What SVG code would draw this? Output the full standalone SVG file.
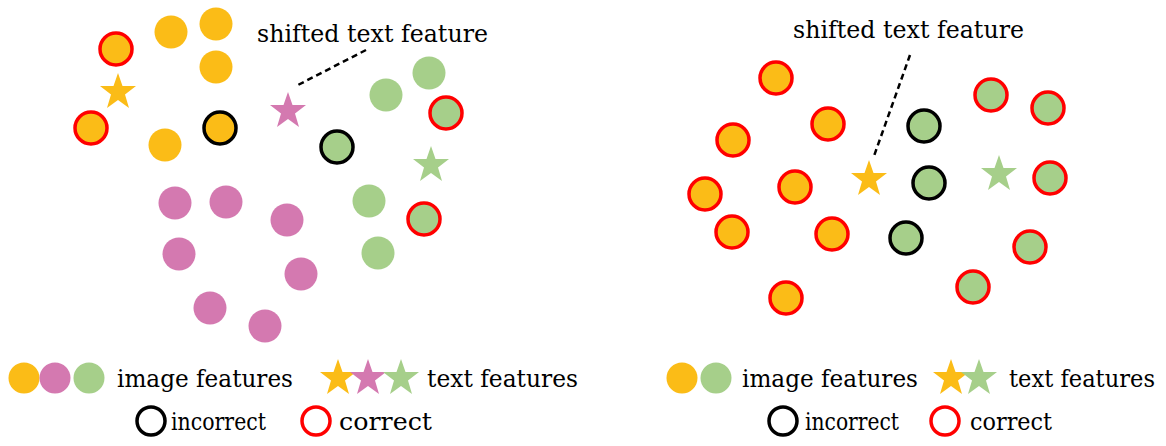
<svg xmlns="http://www.w3.org/2000/svg" width="1166" height="446" viewBox="0 0 1166 446">
<style>
.o{fill:#FBBC17}.p{fill:#D479B0}.g{fill:#A6CF8A}
.r{stroke:#F00;stroke-width:3.5}.k{stroke:#000;stroke-width:3.5}
text{font-family:"DejaVu Serif","Liberation Serif",serif;fill:#000;font-size:25px}
.d{stroke:#000;stroke-width:2.5;stroke-dasharray:6,4;fill:none}
</style>
<defs><path id="s" d="M0,-19 L4.5,-6 L18,-6 L7,2.5 L11,16 L0,8 L-11,16 L-7,2.5 L-18,-6 L-4.5,-6Z"/></defs>
<g id="left">
<circle class="o r" cx="116" cy="49" r="16"/><circle class="o" cx="171" cy="32" r="16.5"/><circle class="o" cx="216" cy="24" r="16.5"/><circle class="o" cx="216" cy="67" r="16.5"/>
<use href="#s" class="o" x="118" y="92"/>
<circle class="o r" cx="91" cy="128" r="16"/><circle class="o" cx="165" cy="145" r="16.5"/><circle class="o k" cx="220" cy="128" r="16"/>
<use href="#s" class="p" x="288" y="111"/>
<circle class="g k" cx="337" cy="147" r="16"/>
<circle class="g" cx="429" cy="73" r="16.5"/><circle class="g" cx="386" cy="95" r="16.5"/><circle class="g r" cx="446" cy="113" r="16"/>
<use href="#s" class="g" x="431" y="165"/>
<circle class="g" cx="369" cy="201" r="16.5"/><circle class="g r" cx="424" cy="219" r="16"/><circle class="g" cx="378" cy="253" r="16.5"/>
<circle class="p" cx="175" cy="203" r="16.5"/><circle class="p" cx="226" cy="202" r="16.5"/><circle class="p" cx="287" cy="220" r="16.5"/><circle class="p" cx="179" cy="254" r="16.5"/><circle class="p" cx="301" cy="274" r="16.5"/><circle class="p" cx="210" cy="308" r="16.5"/><circle class="p" cx="265" cy="326" r="16.5"/>
<text x="257" y="42" textLength="231" lengthAdjust="spacingAndGlyphs">shifted text feature</text>
</g>
<g id="right">
<circle class="o r" cx="776" cy="78" r="16"/><circle class="o r" cx="828" cy="124" r="16"/><circle class="o r" cx="733" cy="140" r="16"/><circle class="o r" cx="795" cy="187" r="16"/><circle class="o r" cx="705" cy="194" r="16"/><circle class="o r" cx="732" cy="232" r="16"/><circle class="o r" cx="832" cy="234" r="16"/><circle class="o r" cx="786" cy="298" r="16"/>
<use href="#s" class="o" x="869" y="179"/>
<circle class="g k" cx="924" cy="126" r="16"/><circle class="g k" cx="929" cy="183" r="16"/><circle class="g k" cx="906" cy="238" r="16"/>
<circle class="g r" cx="991" cy="95" r="16"/><circle class="g r" cx="1048" cy="108" r="16"/><circle class="g r" cx="1050" cy="178" r="16"/><circle class="g r" cx="1030" cy="247" r="16"/><circle class="g r" cx="973" cy="287" r="16"/>
<use href="#s" class="g" x="999" y="174"/>
<text x="793" y="38" textLength="231" lengthAdjust="spacingAndGlyphs">shifted text feature</text>
</g>
<g id="connectors">
<path class="d" d="M366,50 L296,86"/>
<path class="d" d="M910,55 L874,156"/>
</g>
<g id="legend">
<circle class="o" cx="24" cy="378" r="15.5"/><circle class="p" cx="55" cy="378" r="15.5"/><circle class="g" cx="89" cy="378" r="15.5"/>
<text x="117" y="387" textLength="176" lengthAdjust="spacingAndGlyphs">image features</text>
<use href="#s" class="o" x="338" y="378"/><use href="#s" class="p" x="368" y="378"/><use href="#s" class="g" x="401" y="378"/>
<text x="427" y="387" textLength="151" lengthAdjust="spacingAndGlyphs">text features</text>
<circle fill="none" class="k" cx="151" cy="421" r="14"/><text x="171" y="430" textLength="95" lengthAdjust="spacingAndGlyphs">incorrect</text>
<circle fill="none" class="r" cx="316" cy="421" r="14"/><text x="339" y="430" textLength="93" lengthAdjust="spacingAndGlyphs">correct</text>
<circle class="o" cx="682" cy="378" r="15.5"/><circle class="g" cx="716" cy="378" r="15.5"/>
<text x="742" y="387" textLength="176" lengthAdjust="spacingAndGlyphs">image features</text>
<use href="#s" class="o" x="951" y="378"/><use href="#s" class="g" x="979" y="378"/>
<text x="1009" y="387" textLength="146" lengthAdjust="spacingAndGlyphs">text features</text>
<circle fill="none" class="k" cx="783" cy="421" r="14"/><text x="805" y="430" textLength="94" lengthAdjust="spacingAndGlyphs">incorrect</text>
<circle fill="none" class="r" cx="945" cy="421" r="14"/><text x="970" y="430" textLength="82" lengthAdjust="spacingAndGlyphs">correct</text>
</g>
</svg>
